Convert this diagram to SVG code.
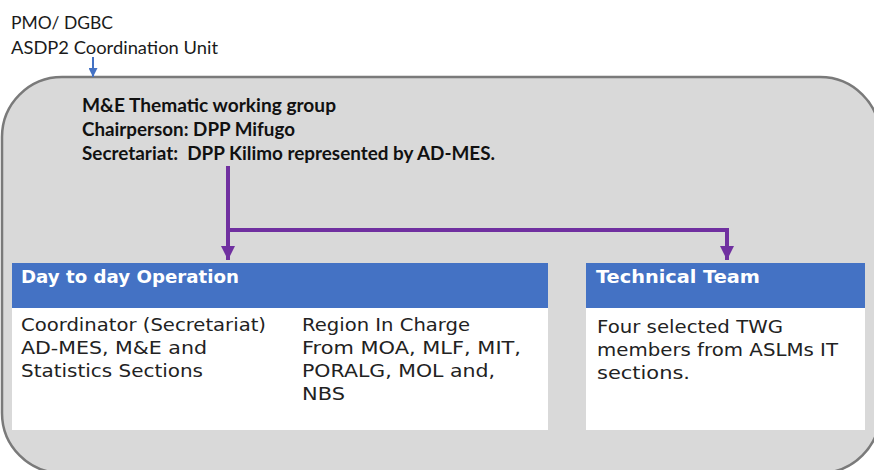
<svg xmlns="http://www.w3.org/2000/svg" width="874" height="470" viewBox="0 0 874 470">
  <defs>
    <style>
      .plain { font-family: Lato, "Open Sans", "Liberation Sans", sans-serif; font-size: 18px; fill: #1a1a1a; }
      .lead { font-family: Lato, "Open Sans", "Liberation Sans", sans-serif; font-size: 18px; font-weight: bold; fill: #111111; white-space: pre; }
      .head { font-family: "DejaVu Sans", "Noto Sans", sans-serif; font-size: 18px; font-weight: bold; fill: #ffffff; }
      .body { font-family: "DejaVu Sans", "Noto Sans", sans-serif; font-size: 18px; fill: #222222; }
      .panel-head { fill: #4472c4; }
      .panel-body { fill: #ffffff; }
      .link { fill: none; stroke: #7030a0; stroke-width: 4; }
    </style>
    <marker id="purpleHead" viewBox="0 0 10 10" refX="10" refY="5" markerWidth="3.6" markerHeight="3.6" markerUnits="strokeWidth" orient="auto">
      <path d="M0,0 L10,5 L0,10 z" fill="#7030a0"/>
    </marker>
    <marker id="blueHead" viewBox="0 0 10 10" refX="10" refY="5" markerWidth="4.5" markerHeight="4.5" markerUnits="strokeWidth" orient="auto">
      <path d="M0,0 L10,5 L0,10 z" fill="#4472c4"/>
    </marker>
  </defs>

  <rect width="874" height="470" fill="#ffffff"/>

  <!-- coordinating unit above the group -->
  <g id="coordination-unit">
    <text class="plain" x="11" y="29" textLength="102" lengthAdjust="spacingAndGlyphs">PMO/ DGBC</text>
    <text class="plain" x="11" y="54" textLength="207" lengthAdjust="spacingAndGlyphs">ASDP2 Coordination Unit</text>
  </g>

  <!-- thematic working group container -->
  <g id="working-group">
    <rect x="2" y="77" width="878" height="396" rx="60" ry="60" fill="#d9d9d9" stroke="#7a7a7a" stroke-width="2.5"/>
    <text class="lead" x="82" y="112" textLength="254" lengthAdjust="spacingAndGlyphs">M&amp;E Thematic working group</text>
    <text class="lead" x="82" y="136" textLength="213" lengthAdjust="spacingAndGlyphs">Chairperson: DPP Mifugo</text>
    <text class="lead" x="82" y="160" textLength="413" lengthAdjust="spacingAndGlyphs" xml:space="preserve">Secretariat:  DPP Kilimo represented by AD-MES.</text>
  </g>

  <g id="day-to-day">
    <rect class="panel-head" x="12" y="263" width="536" height="45"/>
    <rect class="panel-body" x="12" y="308" width="536" height="122"/>
    <text class="head" x="21" y="283" textLength="218" lengthAdjust="spacingAndGlyphs">Day to day Operation</text>
    <text class="body" x="21" y="331" textLength="245" lengthAdjust="spacingAndGlyphs">Coordinator (Secretariat)</text>
    <text class="body" x="21" y="354" textLength="186" lengthAdjust="spacingAndGlyphs">AD-MES, M&amp;E and</text>
    <text class="body" x="21" y="377" textLength="182" lengthAdjust="spacingAndGlyphs">Statistics Sections</text>
    <text class="body" x="302" y="331" textLength="168" lengthAdjust="spacingAndGlyphs">Region In Charge</text>
    <text class="body" x="302" y="354" textLength="219" lengthAdjust="spacingAndGlyphs">From MOA, MLF, MIT,</text>
    <text class="body" x="302" y="377" textLength="193" lengthAdjust="spacingAndGlyphs">PORALG, MOL and,</text>
    <text class="body" x="302" y="400" textLength="43" lengthAdjust="spacingAndGlyphs">NBS</text>
  </g>

  <g id="technical-team">
    <rect class="panel-head" x="586" y="263" width="279" height="45"/>
    <rect class="panel-body" x="586" y="308" width="279" height="122"/>
    <text class="head" x="596" y="283" textLength="164" lengthAdjust="spacingAndGlyphs">Technical Team</text>
    <text class="body" x="597" y="333" textLength="186" lengthAdjust="spacingAndGlyphs">Four selected TWG</text>
    <text class="body" x="597" y="356" textLength="241" lengthAdjust="spacingAndGlyphs">members from ASLMs IT</text>
    <text class="body" x="597" y="379" textLength="93" lengthAdjust="spacingAndGlyphs">sections.</text>
  </g>

  <g id="connectors">
    <line x1="93" y1="57" x2="93" y2="77" stroke="#4472c4" stroke-width="2" marker-end="url(#blueHead)"/>
    <line class="link" x1="228" y1="166" x2="228" y2="260" marker-end="url(#purpleHead)"/>
    <polyline class="link" points="228,230 727,230 727,260" marker-end="url(#purpleHead)"/>
  </g>
</svg>
